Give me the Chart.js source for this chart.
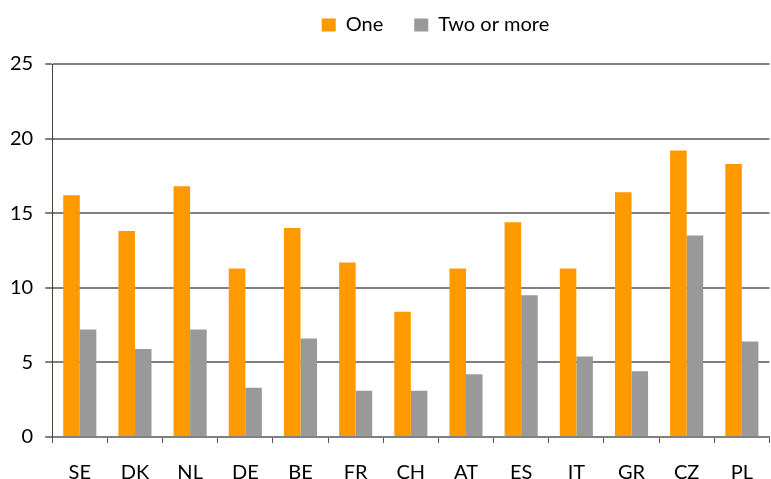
<!DOCTYPE html>
<html>
<head>
<meta charset="utf-8">
<script src="https://cdn.jsdelivr.net/npm/chart.js@4"></script>
<style>
  html, body { margin: 0; padding: 0; background: #fff; }
  #wrap { width: 771px; height: 479px; position: relative; }
</style>
</head>
<body>
<div id="wrap"><canvas id="myGraph"></canvas></div>
<script>
// categorii si valori
const countries = ["SE", "DK", "NL", "DE", "BE", "FR", "CH", "AT", "ES", "IT", "GR", "CZ", "PL"];
const oneValues = [16.2, 13.8, 16.8, 11.3, 14.0, 11.7, 8.4, 11.3, 14.4, 11.3, 16.4, 19.2, 18.3];
const twoOrMoreValues = [7.2, 5.9, 7.2, 3.3, 6.6, 3.1, 3.1, 4.2, 9.5, 5.4, 4.4, 13.5, 6.4];
const yTicks = [0, 5, 10, 15, 20, 25];

const fontFamily = "Lato, 'Open Sans', sans-serif";
const graph = document.getElementById("myGraph");

// legenda nu e centrata pe canvas in original, o mutam la dreapta si in sus
const legendShift = {
  id: 'legendShift',
  afterLayout(chart) {
    const lg = chart.legend;
    lg.left += 51;
    lg.right += 51;
    lg.top -= 19;
    lg.bottom -= 19;
  }
};

const chart = new Chart(graph, {
  type: 'bar',
  data: {
    labels: countries,
    datasets: [
      {
        label: "One",
        data: oneValues,
        backgroundColor: '#FF9900',
        borderWidth: 0
      },
      {
        label: "Two or more",
        data: twoOrMoreValues,
        backgroundColor: '#999999',
        borderWidth: 0
      }
    ]
  },
  plugins: [legendShift],
  options: {
    responsive: true,
    maintainAspectRatio: false,
    animation: false,
    datasets: {
      bar: { categoryPercentage: 0.6, barPercentage: 1.0 }
    },
    layout: { padding: { left: -2, right: 0, top: 3, bottom: -24 } },
    plugins: {
      tooltip: { enabled: false },
      legend: {
        position: 'top',
        labels: {
          boxWidth: 14,
          boxHeight: 13,
          padding: 31,
          color: '#000',
          font: { family: fontFamily, size: 20 }
        }
      }
    },
    scales: {
      x: {
        grid: {
          offset: true,
          drawOnChartArea: false,
          drawTicks: true,
          tickLength: 6,
          color: '#555',
          lineWidth: 1
        },
        border: { color: '#808080', width: 2 },
        ticks: {
          color: '#000',
          padding: 18,
          font: { family: fontFamily, size: 20 }
        }
      },
      y: {
        min: 0,
        max: 25,
        afterBuildTicks: axis => {
          axis.ticks = yTicks.map(v => ({ value: v }));
        },
        grid: {
          color: '#808080',
          lineWidth: 2,
          tickLength: 7
        },
        border: { color: '#444', width: 1 },
        ticks: {
          color: '#000',
          padding: 12,
          font: { family: fontFamily, size: 20 }
        }
      }
    }
  }
});
</script>
</body>
</html>
